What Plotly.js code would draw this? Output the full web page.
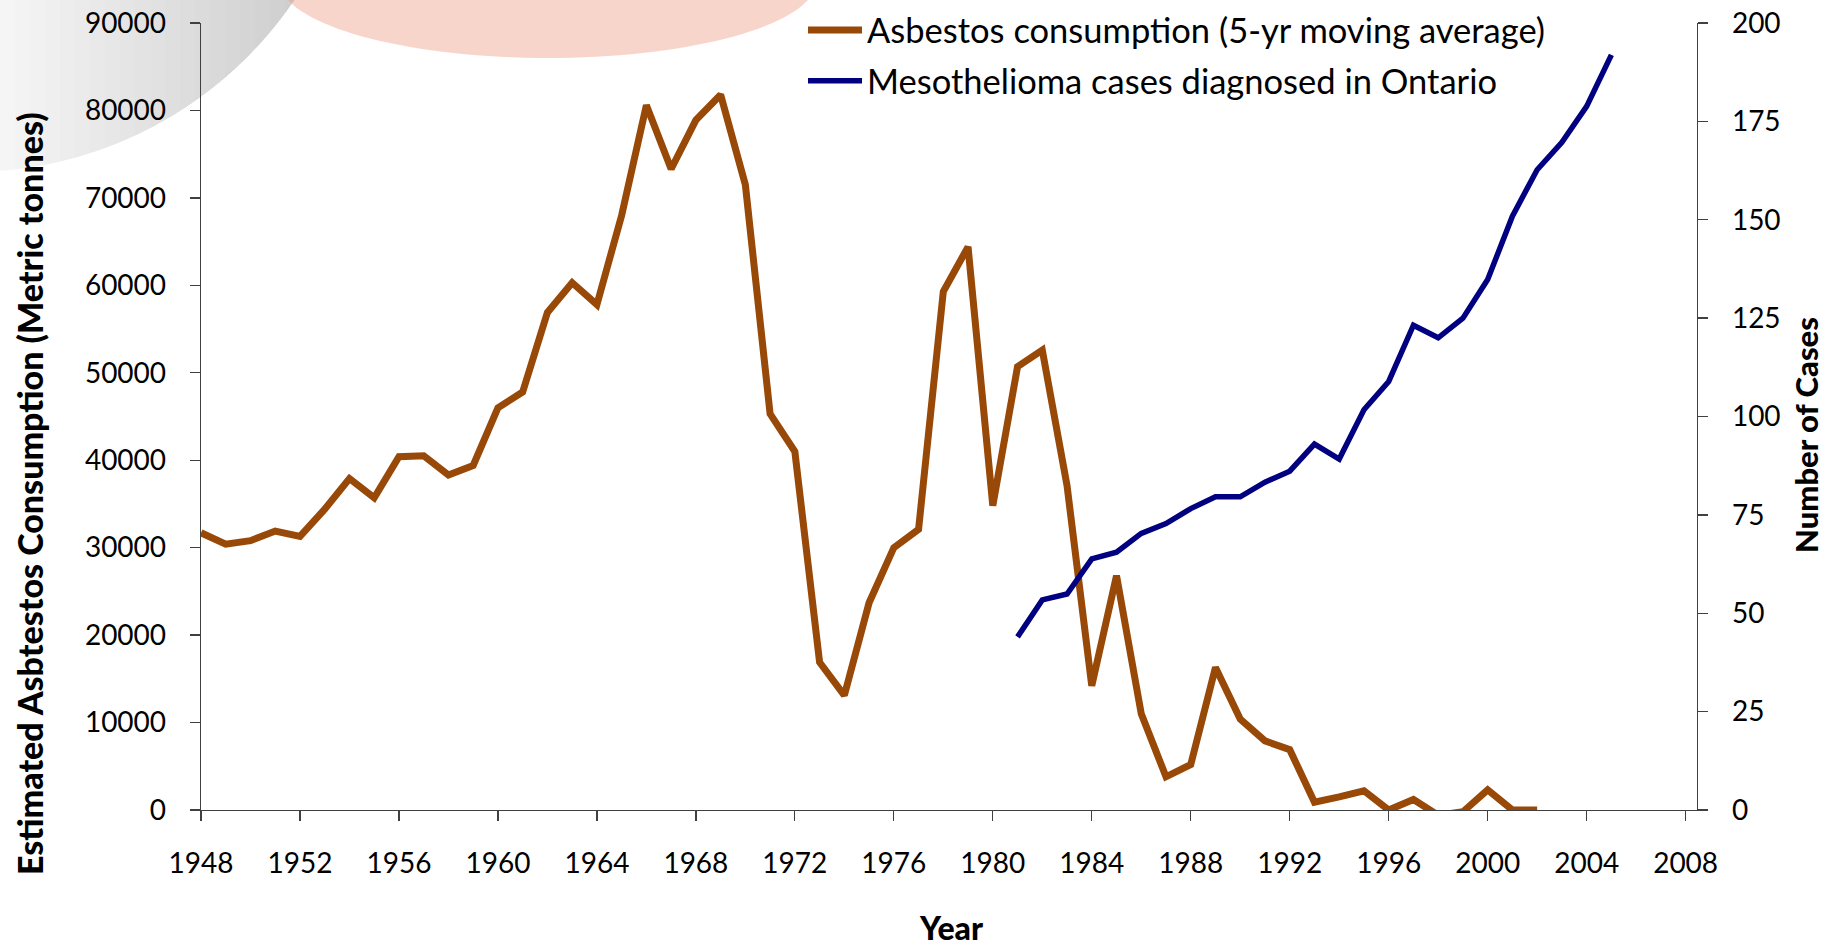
<!DOCTYPE html>
<html><head><meta charset="utf-8">
<script src="https://cdn.plot.ly/plotly-3.0.1.min.js"></script>
<style>html,body{margin:0;padding:0;background:#fff;} #chart{width:1827px;height:947px;}</style>
</head><body><div id="chart"></div>
<script>
// ---------- data ----------
const years = [1948,1949,1950,1951,1952,1953,1954,1955,1956,1957,1958,1959,1960,1961,1962,1963,1964,1965,1966,1967,1968,1969,1970,1971,1972,1973,1974,1975,1976,1977,1978,1979,1980,1981,1982,1983,1984,1985,1986,1987,1988,1989,1990,1991,1992,1993,1994,1995,1996,1997,1998,1999,2000,2001,2002];
const asbestos = [31700,30400,30800,31900,31300,34400,37900,35700,40400,40500,38300,39400,46000,47800,56900,60300,57800,68000,80600,73300,78900,81800,71500,45300,41000,16900,13100,23700,30000,32100,59300,64400,34800,50700,52600,37100,14200,26800,11000,3800,5200,16300,10400,7900,6900,900,1500,2200,0,1200,-600,-200,2300,0,0];
const mesoYears = [1981,1982,1983,1984,1985,1986,1987,1988,1989,1990,1991,1992,1993,1994,1995,1996,1997,1998,1999,2000,2001,2002,2003,2004,2005];
const mesoCases = [44,53.4,54.9,63.8,65.5,70.3,72.8,76.6,79.6,79.6,83.3,86.1,93,89.2,101.7,108.9,123.2,120,125,134.8,150.9,162.7,169.7,178.8,191.9];
const xTicks = [1948,1952,1956,1960,1964,1968,1972,1976,1980,1984,1988,1992,1996,2000,2004,2008];
const leftTicks = [0,10000,20000,30000,40000,50000,60000,70000,80000,90000];
const rightTicks = [0,25,50,75,100,125,150,175,200];
const seriesNames = ['Asbestos consumption (5-yr moving average)','Mesothelioma cases diagnosed in Ontario'];

// ---------- geometry ----------
const W=1827, H=947, L=201, R=130, T=23, B=137;
const PW=W-L-R, PH=H-T-B;
const px = x => (x-L)/PW;
const py = y => (H-B-y)/PH;

function ellipsePts(cx,cy,a,b,n){
  const pts=[];
  for(let i=0;i<=n;i++){ const t=2*Math.PI*i/n; pts.push([cx+a*Math.cos(t), cy+b*Math.sin(t)]); }
  return pts;
}
// part of a circle lying right of x0
function circleRightOf(cx,cy,r,x0,n){
  const top=[], bot=[];
  for(let i=0;i<=n;i++){
    const x=x0+(cx+r-x0)*i/n;
    const h=Math.sqrt(Math.max(0,r*r-(x-cx)*(x-cx)));
    top.push([x,cy-h]); bot.push([x,cy+h]);
  }
  return top.concat(bot.reverse());
}
function toPath(pts){
  return 'M'+pts.map(p=>px(p[0]).toFixed(5)+','+py(p[1]).toFixed(5)).join('L')+'Z';
}
const shapes=[];
// grey arc, darkening toward the right
const gcx=-30, gcy=-220, gr=392;
shapes.push({type:'path', xref:'paper', yref:'paper', layer:'below',
  path: toPath(circleRightOf(gcx,gcy,gr,gcx-gr,160)),
  fillcolor:'rgba(150,153,156,0.08)', line:{width:0}});
for(let x0=0;x0<=300;x0+=15){
  shapes.push({type:'path', xref:'paper', yref:'paper', layer:'below',
    path: toPath(circleRightOf(gcx,gcy,gr,x0,80)),
    fillcolor:'rgba(150,153,156,0.016)', line:{width:0}});
}
// salmon ellipse
shapes.push({type:'path', xref:'paper', yref:'paper', layer:'below',
  path: toPath(ellipsePts(548,-20,269,78,140)),
  fillcolor:'rgba(238,150,125,0.40)', line:{width:0}});

const axisCol='#404040';
const tickFont={family:'Lato, sans-serif', size:28, color:'#000'};
const titleFont={family:'Lato, sans-serif', size:35, color:'#000', weight:900};

const traces=[
  {x:years, y:asbestos, name:seriesNames[0], type:'scatter', mode:'lines',
   line:{color:'#984807', width:7}, xaxis:'x', yaxis:'y', legendgroup:'a'},
  {x:mesoYears, y:mesoCases, name:seriesNames[1], type:'scatter', mode:'lines',
   line:{color:'#000080', width:5.5}, xaxis:'x', yaxis:'y2', legendgroup:'b'}
];

const common={showgrid:false, zeroline:false, tickcolor:axisCol, tickwidth:1.3, fixedrange:true};
const layout={
  width:W, height:H,
  margin:{l:L, r:R, t:T, b:B, pad:0, autoexpand:false},
  paper_bgcolor:'#fff', plot_bgcolor:'rgba(0,0,0,0)',
  showlegend:true,
  legend:{x:px(803), y:py(1), xanchor:'left', yanchor:'top', bgcolor:'rgba(0,0,0,0)', itemwidth:54,
    font:{family:'Lato, sans-serif', size:34.5, color:'#000'}, traceorder:'grouped', tracegroupgap:3},
  xaxis:Object.assign({}, common, {range:[1948,2008.46], tickmode:'array', tickvals:xTicks, ticktext:xTicks.map(String),
    ticks:'outside', ticklen:10, showline:true, linecolor:axisCol, linewidth:1.3, tickfont:tickFont, ticklabelstandoff:18}),
  xaxis2:Object.assign({}, common, {range:[1948,2008.46], overlaying:'x', anchor:'y', side:'bottom', tickmode:'array', tickvals:xTicks,
    ticks:'inside', ticklen:10, showticklabels:false, showline:false}),
  yaxis:Object.assign({}, common, {range:[0,90000], tickmode:'array', tickvals:leftTicks, ticktext:leftTicks.map(String),
    ticks:'outside', ticklen:10, showline:true, linecolor:axisCol, linewidth:1.3, tickfont:tickFont, ticklabelstandoff:18}),
  yaxis3:Object.assign({}, common, {range:[0,90000], overlaying:'y', anchor:'x', side:'left', tickmode:'array', tickvals:leftTicks,
    ticks:'inside', ticklen:9, showticklabels:false, showline:false}),
  yaxis2:Object.assign({}, common, {range:[0,200], overlaying:'y', anchor:'x', side:'right', tickmode:'array', tickvals:rightTicks, ticktext:rightTicks.map(String),
    ticks:'outside', ticklen:10, showline:true, linecolor:axisCol, linewidth:1.3, tickfont:tickFont, ticklabelstandoff:18}),
  yaxis4:Object.assign({}, common, {range:[0,200], overlaying:'y', anchor:'x', side:'right', tickmode:'array', tickvals:rightTicks,
    ticks:'inside', ticklen:10, showticklabels:false, showline:false}),
  shapes:shapes,
  annotations:[
    {text:'Estimated Asbtestos Consumption (Metric tonnes)', xref:'paper', yref:'paper', x:px(29), y:py(494), textangle:-90,
     showarrow:false, xanchor:'center', yanchor:'middle', font:Object.assign({}, titleFont, {size:34})},
    {text:'Number of Cases', xref:'paper', yref:'paper', x:px(1806), y:py(435), textangle:-90,
     showarrow:false, xanchor:'center', yanchor:'middle', font:Object.assign({}, titleFont, {size:31})},
    {text:'Year', xref:'paper', yref:'paper', x:px(951), y:py(927),
     showarrow:false, xanchor:'center', yanchor:'middle', font:Object.assign({}, titleFont, {size:32})}
  ]
};
Plotly.newPlot('chart', traces, layout, {displayModeBar:false, staticPlot:true});
</script>
</body></html>
